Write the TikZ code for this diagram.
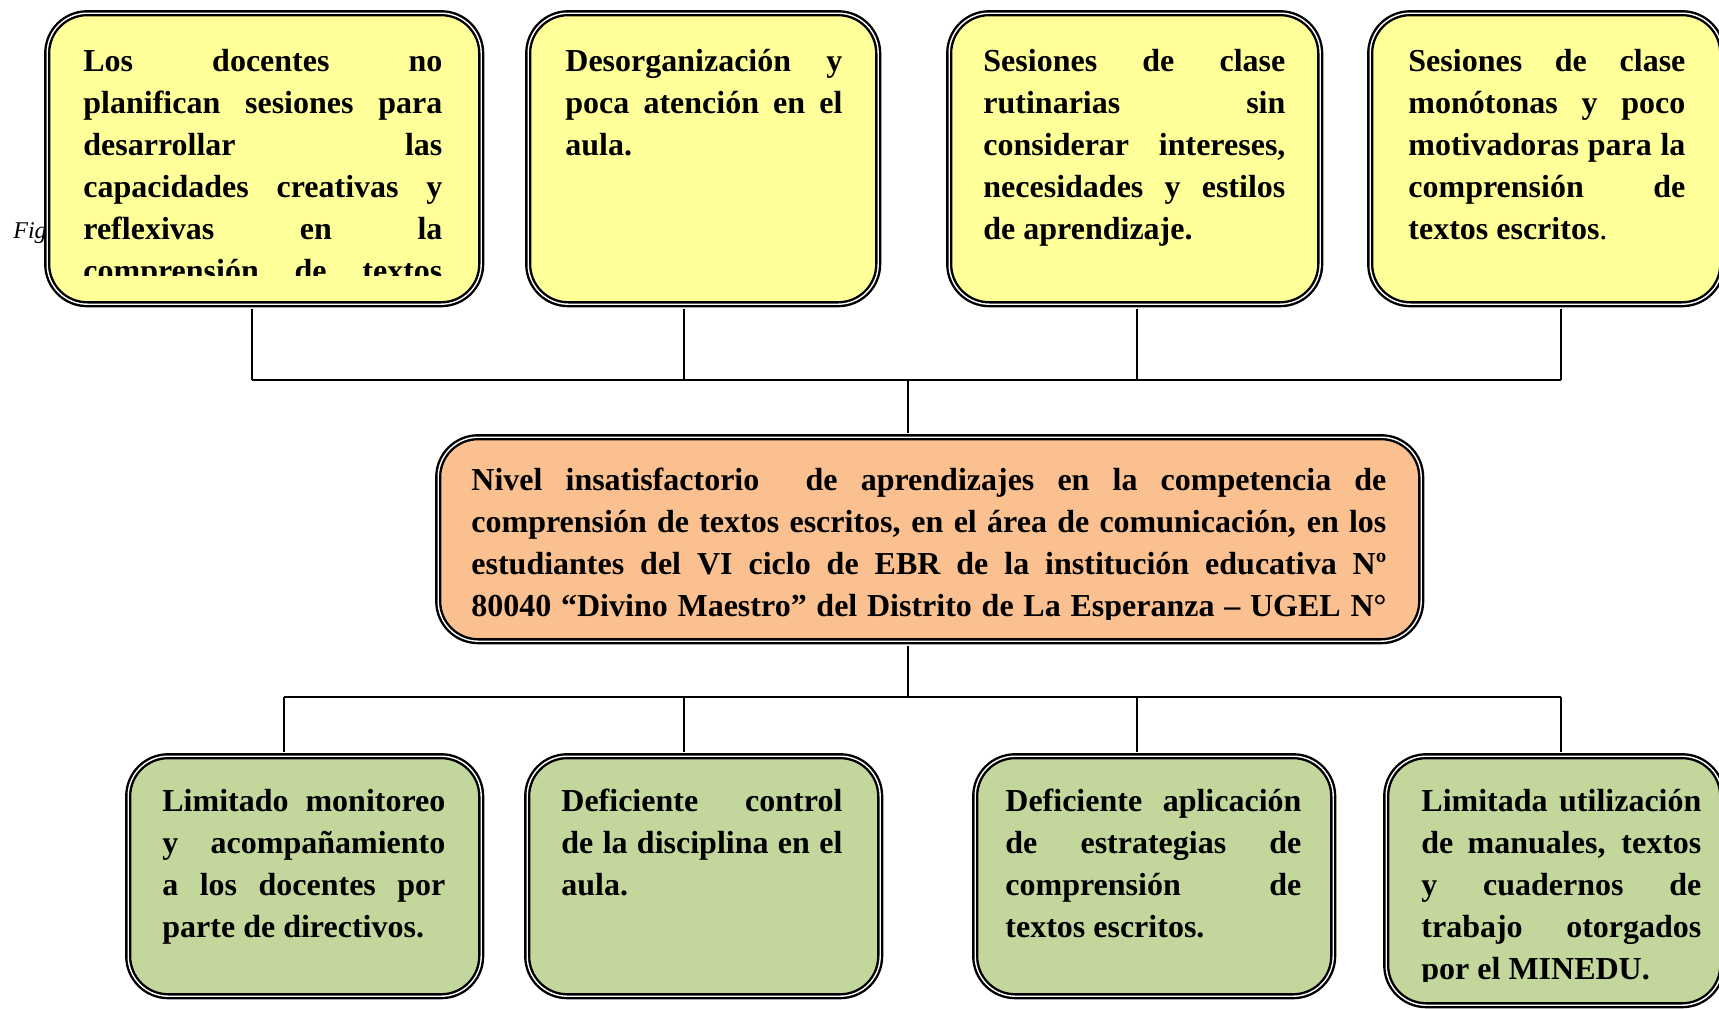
\documentclass[tikz,border=0pt]{standalone}
\usepackage{fontspec}
\setmainfont{Liberation Serif}
\usetikzlibrary{positioning}
\definecolor{amarillo}{RGB}{255,255,153}
\definecolor{naranja}{RGB}{250,192,144}
\definecolor{verde}{RGB}{195,214,155}
\tolerance=10000
\hyphenpenalty=10000
\tikzset{
	caja/.style={
		rectangle,
		rounded corners=20pt,
		draw=black,
		line width=1.2pt,
		double=white,
		double distance=0.7pt,
		inner sep=0pt,
		anchor=north west
	},
	efecto/.style={caja, fill=amarillo, minimum height=145.5pt},
	problema/.style={caja, fill=naranja, minimum height=102pt},
	causa/.style={caja, fill=verde, minimum height=120pt},
	texto/.style={
		anchor=base west,
		inner sep=0pt,
		align=justify,
		font=\fontsize{16}{21}\selectfont\bfseries
	},
	linea/.style={draw, line width=0.8pt}
}

\begin{document}
\begin{tikzpicture}[x=0.5pt, y=-0.5pt]
	\useasboundingbox (0,0) rectangle (1719,1008);
	\node [anchor=base west, inner sep=0pt, font=\fontsize{12}{14}\selectfont\itshape] (fig) at (13,238) {Fig};

	% fila de arriba
	\node [efecto, minimum width=217pt] (efecto1) at (46,12) {};
	\node [efecto, minimum width=175pt] (efecto2) at (527,12) {};
	\node [efecto, minimum width=185.5pt] (efecto3) at (948,12) {};
	\node [efecto, minimum width=176pt] (efecto4) at (1369,12) {};
	\begin{scope}
		\clip (60,20) rectangle (470,275);
		\node [texto, text width=179.5pt] (tefecto1) at (83,71) {Los docentes no\linebreak planifican sesiones para\linebreak desarrollar las\linebreak capacidades creativas y\linebreak reflexivas en la\linebreak comprensión de textos{\parfillskip=0pt\par}};
	\end{scope}
	\node [texto, text width=138.5pt] (tefecto2) at (565,71) {Desorganización y\linebreak poca atención en el\linebreak aula.};
	\node [texto, text width=151pt] (tefecto3) at (983,71) {Sesiones de clase\linebreak rutinarias sin\linebreak considerar intereses,\linebreak necesidades y estilos\linebreak de aprendizaje.};
	\node [texto, text width=138.5pt] (tefecto4) at (1408,71) {Sesiones de clase\linebreak monótonas y poco\linebreak motivadoras para la\linebreak comprensión de\linebreak textos escritos{\mdseries.}};

	% problema central
	\node [problema, minimum width=491.5pt] (problema) at (437,436) {};
	\begin{scope}
		\clip (450,445) rectangle (1410,619);
		\node [texto, text width=457.5pt] (tproblema) at (471,490) {Nivel insatisfactorio\ \ de aprendizajes en la competencia de\linebreak comprensión de textos escritos, en el área de comunicación, en los\linebreak estudiantes del VI ciclo de EBR de la institución educativa Nº\linebreak 80040 “Divino Maestro” del Distrito de La Esperanza – UGEL N°{\parfillskip=0pt\par}};
	\end{scope}

	% fila de abajo
	\node [causa, minimum width=176.5pt] (causa1) at (127,755) {};
	\node [causa, minimum width=176.5pt] (causa2) at (526,755) {};
	\node [causa, minimum width=179pt] (causa3) at (974,755) {};
	\node [causa, minimum width=168pt, minimum height=124.5pt] (causa4) at (1385,755) {};
	\node [texto, text width=141.5pt] (tcausa1) at (162,811) {Limitado monitoreo\linebreak y acompañamiento\linebreak a los docentes por\linebreak parte de directivos.};
	\node [texto, text width=140.5pt] (tcausa2) at (561,811) {Deficiente control\linebreak de la disciplina en el\linebreak aula.};
	\node [texto, text width=148pt] (tcausa3) at (1005,811) {Deficiente aplicación\linebreak de estrategias de\linebreak comprensión de\linebreak textos escritos.};
	\begin{scope}
		\clip (1400,765) rectangle (1719,981);
		\node [texto, text width=140pt] (tcausa4) at (1421,811) {Limitada utilización\linebreak de manuales, textos\linebreak y cuadernos de\linebreak trabajo otorgados\linebreak por el MINEDU.};
	\end{scope}

	% conectores
	\coordinate (arriba1) at (252,380);
	\coordinate (arriba2) at (684,380);
	\coordinate (arriba3) at (1137,380);
	\coordinate (arriba4) at (1561,380);
	\coordinate (arribac) at (908,380);
	\coordinate (abajo1) at (284,697);
	\coordinate (abajo2) at (684,697);
	\coordinate (abajo3) at (1137,697);
	\coordinate (abajo4) at (1561,697);
	\coordinate (abajoc) at (908,697);
	\draw [linea] (arriba1) -- (arriba4);
	\draw [linea, shorten <=1.6pt] (efecto1.south -| arriba1) -- (arriba1);
	\draw [linea, shorten <=1.6pt] (efecto2.south -| arriba2) -- (arriba2);
	\draw [linea, shorten <=1.6pt] (efecto3.south -| arriba3) -- (arriba3);
	\draw [linea, shorten <=1.6pt] (efecto4.south -| arriba4) -- (arriba4);
	\draw [linea, shorten >=1.6pt] (arribac) -- (arribac |- problema.north);
	\draw [linea, shorten <=1.6pt] (problema.south -| abajoc) -- (abajoc);
	\draw [linea] (abajo1) -- (abajo4);
	\draw [linea, shorten >=1.6pt] (abajo1) -- (abajo1 |- causa1.north);
	\draw [linea, shorten >=1.6pt] (abajo2) -- (abajo2 |- causa2.north);
	\draw [linea, shorten >=1.6pt] (abajo3) -- (abajo3 |- causa3.north);
	\draw [linea, shorten >=1.6pt] (abajo4) -- (abajo4 |- causa4.north);
\end{tikzpicture}
\end{document}
